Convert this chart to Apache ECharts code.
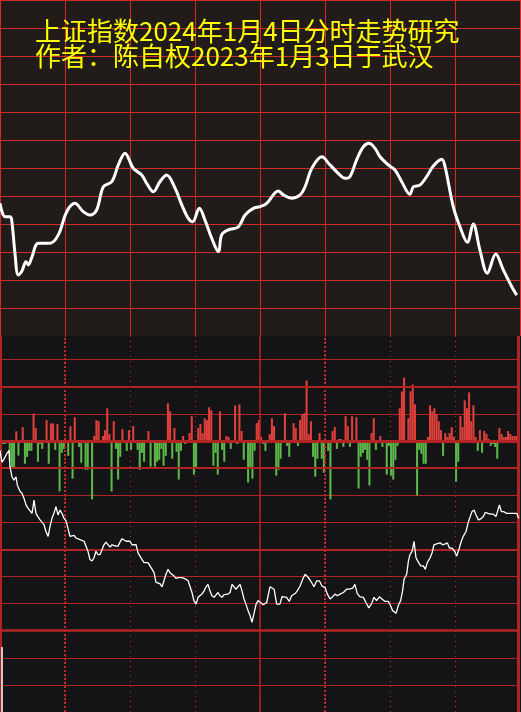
<!DOCTYPE html>
<html><head><meta charset="utf-8">
<script src="https://cdn.jsdelivr.net/npm/echarts@6/dist/echarts.min.js"></script>
<style>html,body{margin:0;padding:0;background:#141417}#c{width:521px;height:712px}</style>
</head><body><div id="c"></div>
<script>
// ---- text ----
const titleLines = ['上证指数2024年1月4日分时走势研究', '作者：陈自权2023年1月3日于武汉'];

// ---- top panel: smoothed average line, [minute, level] ----
const avgLine = [[0,4.74],[2.3,4.26],[4.6,4.26],[5.4,4.14],[6.9,2.96],[8.4,2.18],[10.0,2.30],[12.0,2.65],[13.1,2.54],[14.6,2.79],
[17.7,3.31],[23.1,3.31],[26.9,3.61],[30.8,4.44],[34.6,4.74],[38.4,4.44],[41.5,4.32],[44.6,4.50],[47.7,5.33],[51.6,5.51],
[54.6,6.11],[57.7,6.53],[61.5,5.99],[65.4,5.75],[67.7,5.45],[70.8,5.15],[73.8,5.51],[76.9,5.75],[80.8,5.28],[83.9,4.68],
[86.9,4.20],[88.9,4.08],[92.0,4.56],[94.6,4.14],[97.7,3.49],[100.8,3.01],[102.3,3.61],[105.4,3.79],[110.0,3.90],[113.1,4.32],
[116.9,4.56],[120,4.62],[123.1,4.74],[128.4,5.18],[130.8,5.04],[134.6,4.92],[138.5,5.04],[140.8,5.33],[143.9,5.99],[148.5,6.40],
[152.3,6.11],[156.1,5.81],[159.2,5.63],[161.5,5.69],[164.6,6.29],[167.7,6.76],[170.4,6.88],[173.1,6.70],[175.4,6.40],[179.2,6.11],
[182.3,5.93],[185.4,5.51],[189.2,5.06],[190.8,5.33],[193.8,5.39],[196.9,5.69],[200.0,6.07],[203.9,6.31],[205.4,6.05],[209.2,4.62],
[212.3,3.90],[215.7,3.35],[218.4,4.00],[221.5,3.07],[224.9,2.24],[228.8,2.93],[232.3,2.36],[236.2,1.76],[238.5,1.46]];

// ---- bottom panel: per-minute bars (positive red, negative green) ----
const bars = [
-12,-3,-3,0,-20,-28,-28,9.7,-14.7,0,
14,-23,-16,-10,-10,27.7,13,-21,-3,-8,
-2,21,-23,17.7,17.7,-9,17,-51,-12,-8,
0,-15,15,-38,24,0,-6,-22,0,-29,
-29,0,-59,5,21,20,0,5,11,33,
7,-51,20,-8,-39,-16,12,0,-10,11,
-9,15,0,-9,-29,-12,-21,0,10,-26,
0,-26,-21,-19,-8,-25,-15,38,30,-18,
13,-11,-39,-10,5,-3,0,8,25,-34,
-26,13,17,8,23,21,34,31,-25,-12,
-34,30,-9,-21,5,4,-8,0,36,-3,
37,10,-19,0,-42,-28,-38,-10,18,21,
4,-3,-10,0,7,23,15,-35,-29,-18,
0,28,-5,-16,0,18,13,-5,21,27,
28,61,7,20,-16,-36,-18,8,-18,-32,
0,-10,-59,10,14,-8,2,2,-6,25,
15,-6,25,0,24,-48,-16,-12,-9,-19,
-45,8,23,-9,0,5,-6,0,-34,-5,
-35,-39,-19,-5,33,50,64,0,23,50,
57,37,-55,-9,-13,-23,-23,4,36,30,
33,27,20,11,-15,8,4,8,14,4,
-41,-21,25,14,41,33,49,20,36,4,
-10,11,-12,10,7,2,-5,-3,-6,-18,
13,7,4,4,10,7,5,5,5,-18];

// ---- bottom panel: thin price line, [minute, level] ----
const priceLine = [[0,-0.35],[0.9,-0.78],[1.8,-0.68],[3.1,-0.47],[4.2,-0.35],[4.6,-0.95],[5.5,-1.32],[6.5,-1.45],[7.4,-1.32],[8.0,-1.63],
[9.2,-1.85],[10.2,-1.94],[11.1,-2.12],[12.0,-2.36],[12.9,-2.48],[13.8,-2.51],[14.8,-2.67],[15.7,-2.18],[16.6,-2.67],[17.5,-2.79],
[18.5,-2.91],[19.4,-2.97],[20.3,-3.09],[21.2,-3.34],[22.2,-3.52],[23.1,-3.15],[24.0,-2.85],[24.9,-2.67],[25.8,-2.42],[26.8,-2.73],
[27.7,-2.55],[28.6,-2.67],[29.5,-2.85],[30.5,-2.95],[31.4,-2.97],[32.3,-3.52],[33.2,-3.46],[34.2,-3.48],[35.1,-3.58],[36.0,-3.62],
[36.9,-3.64],[37.8,-3.58],[38.8,-3.70],[39.7,-3.76],[40.6,-4.07],[41.5,-4.37],[42.5,-4.43],[43.4,-4.31],[44.3,-4.07],[45.2,-4.19],
[46.2,-4.19],[47.1,-4.13],[48.0,-3.83],[48.9,-3.73],[49.8,-3.76],[50.8,-3.92],[51.7,-3.83],[52.6,-3.85],[53.5,-3.88],[54.5,-3.88],
[55.4,-3.73],[56.3,-3.61],[57.2,-3.68],[58.2,-3.70],[59.1,-3.68],[60.0,-3.70],[60.9,-3.83],[61.8,-3.83],[62.8,-3.83],[63.7,-4.13],
[64.6,-4.25],[65.5,-4.37],[66.5,-4.49],[67.4,-4.49],[68.3,-4.49],[69.2,-4.56],[70.2,-4.74],[71.1,-4.86],[72.0,-5.22],[72.9,-5.29],
[73.8,-5.26],[74.8,-5.38],[75.7,-5.35],[76.6,-4.92],[77.5,-4.74],[78.5,-4.86],[79.4,-4.80],[80.3,-4.98],[81.2,-5.07],[82.2,-5.04],
[83.1,-5.04],[84.0,-5.04],[84.9,-5.10],[85.8,-5.10],[86.8,-5.16],[87.7,-5.14],[88.6,-5.59],[89.5,-5.89],[90.5,-6.02],[91.4,-5.77],
[92.3,-5.75],[93.2,-5.65],[94.2,-5.53],[95.1,-5.38],[96.0,-5.29],[96.9,-5.53],[97.8,-5.71],[98.8,-5.77],[99.7,-5.83],[100.6,-5.59],
[101.5,-5.71],[102.5,-5.77],[103.4,-5.67],[104.3,-5.71],[105.2,-5.65],[106.2,-5.59],[107.1,-5.29],[108.0,-5.22],[108.9,-5.47],[109.8,-5.38],
[110.8,-5.29],[111.7,-5.53],[112.6,-5.83],[113.5,-6.02],[114.5,-6.26],[115.4,-6.44],[116.3,-6.69],[117.2,-6.38],[118.2,-6.02],[119.1,-5.89],
[120.0,-5.89],[121.5,-6.04],[123.1,-5.96],[124.6,-5.38],[125.5,-5.35],[126.5,-5.47],[127.7,-6.02],[129.2,-6.02],[130.2,-5.74],[131.1,-5.77],
[132.3,-5.77],[133.5,-5.92],[134.6,-5.71],[136.2,-5.63],[137.2,-5.53],[138.5,-5.35],[139.7,-5.10],[140.8,-4.92],[142.3,-5.04],[143.8,-5.22],
[144.9,-5.38],[146.2,-5.16],[147.4,-5.16],[148.6,-5.35],[150.0,-5.41],[151.1,-5.65],[152.3,-5.83],[153.5,-5.75],[154.6,-5.65],[155.7,-5.71],
[156.9,-5.65],[158.5,-5.59],[160.0,-5.47],[161.2,-5.47],[162.8,-5.43],[163.8,-5.29],[164.9,-5.63],[166.2,-5.75],[167.7,-5.77],[168.9,-5.96],
[170.2,-6.16],[171.4,-6.02],[172.6,-5.77],[173.8,-5.89],[175.1,-5.75],[176.3,-5.83],[177.7,-5.92],[179.2,-5.92],[180.3,-6.08],[181.2,-6.26],
[182.8,-6.36],[183.8,-6.08],[184.9,-5.89],[185.8,-5.53],[186.5,-5.10],[187.7,-4.92],[188.5,-4.43],[189.2,-4.19],[190.2,-4.07],[191.1,-3.70],
[192.0,-4.31],[193.2,-4.49],[194.2,-4.61],[195.4,-4.61],[196.3,-4.74],[197.2,-4.49],[198.5,-4.31],[199.4,-4.13],[200.3,-3.83],[201.5,-3.80],
[203.1,-3.76],[204.3,-3.83],[205.5,-3.80],[206.5,-3.76],[207.4,-3.95],[208.6,-3.95],[209.8,-4.07],[210.8,-4.25],[212.0,-3.95],[212.9,-3.70],
[213.8,-3.52],[215.1,-3.34],[216.0,-3.03],[216.9,-2.97],[217.8,-2.61],[218.8,-2.55],[219.7,-2.73],[220.8,-2.91],[221.8,-2.88],[223.1,-2.79],
[224.0,-2.63],[225.2,-2.67],[226.5,-2.70],[227.7,-2.70],[228.9,-2.79],[229.8,-2.55],[230.5,-2.36],[231.4,-2.61],[232.6,-2.61],[233.8,-2.67],
[235.1,-2.67],[236.3,-2.67],[237.5,-2.67],[238.5,-2.67],[239.4,-2.85]];

// trading minute labels 09:31-11:30, 13:01-15:00
const minutes = [];
function pad(n){return (n<10?'0':'')+n;}
for (let m = 9*60+31; m <= 11*60+30; m++) minutes.push(pad(Math.floor(m/60))+':'+pad(m%60));
for (let m = 13*60+1; m <= 15*60; m++) minutes.push(pad(Math.floor(m/60))+':'+pad(m%60));

const chart = echarts.init(document.getElementById('c'), null, {renderer:'canvas'});
const topRed = '#d42a2a', botRed = '#b22424';
const hide = {axisLine:{show:false}, axisTick:{show:false}, axisLabel:{show:false}};

chart.setOption({
  animation: false,
  backgroundColor: '#141417',
  title: {
    text: titleLines.join('\n'), left: 35, top: 19, padding: 0, z: 10,
    textStyle: {color:'#ffff00', fontSize: 26, lineHeight: 25, fontWeight: 'normal',
      fontFamily: '"Noto Sans CJK SC", sans-serif'}
  },
  grid: [
    {left: 0, top: 0, width: 520, height: 336, show: true, backgroundColor: '#211b1a', borderWidth: 0},
    {left: 0, top: 336, width: 520, height: 379.7, show: true, backgroundColor: '#141417', borderWidth: 0}
  ],
  xAxis: [
    Object.assign({type:'value', gridIndex:0, min:0, max:240, interval:30,
      splitLine:{show:true, lineStyle:{color:topRed, width:1}}}, hide),
    Object.assign({type:'value', gridIndex:1, min:0, max:240, interval:30,
      splitLine:{show:true, showMinLine:false, showMaxLine:false, lineStyle:{color:'#c42828', width:1, type:[1,4]}}}, hide),
    Object.assign({type:'category', gridIndex:1, data: minutes, boundaryGap:true, splitLine:{show:false}}, hide)
  ],
  yAxis: [
    Object.assign({type:'value', gridIndex:0, min:0, max:12, interval:1,
      splitLine:{show:true, showMinLine:false, lineStyle:{color:topRed, width:1}}}, hide),
    Object.assign({type:'value', gridIndex:1, min:-10, max:3.873, interval:1,
      splitLine:{show:true, showMaxLine:false, lineStyle:{color:botRed, width:1}}}, hide),
    Object.assign({type:'value', gridIndex:1, min:-273.7, max:106, splitLine:{show:false}}, hide)
  ],
  series: [
    {type:'line', xAxisIndex:0, yAxisIndex:0, data: avgLine, smooth:0.35, showSymbol:false,
      lineStyle:{color:'#ffffff', width:3}, z:5},
    {type:'bar', xAxisIndex:2, yAxisIndex:2, data: bars, barCategoryGap:'5%',
      itemStyle:{color: p => p.value >= 0 ? '#e0403c' : '#5cb84a'}, z:3},
    {type:'line', xAxisIndex:1, yAxisIndex:1, data: priceLine, showSymbol:false,
      lineStyle:{color:'#ffffff', width:1.3}, z:6,
      markLine:{silent:true, symbol:'none', label:{show:false}, animation:false,
        lineStyle:{color:botRed, type:'solid', width:2},
        data:[
          {xAxis:0, lineStyle:{width:3}},
          {xAxis:120, lineStyle:{width:1.5}},
          {xAxis:239.2, lineStyle:{width:3}},
          {xAxis:30, lineStyle:{width:2, type:[2,2], color:'#c42828'}},
          {xAxis:150, lineStyle:{width:2, type:[2,2], color:'#c42828'}},
          {yAxis:2}, {yAxis:0, lineStyle:{width:3}}, {yAxis:-1}, {yAxis:-4}, {yAxis:-7, lineStyle:{width:2.5}},
          [{coord:[0.6,-7.6], lineStyle:{color:'#c8c8c8', width:2}}, {coord:[0.6,-10]}]
        ]}}
  ]
});
</script></body></html>
